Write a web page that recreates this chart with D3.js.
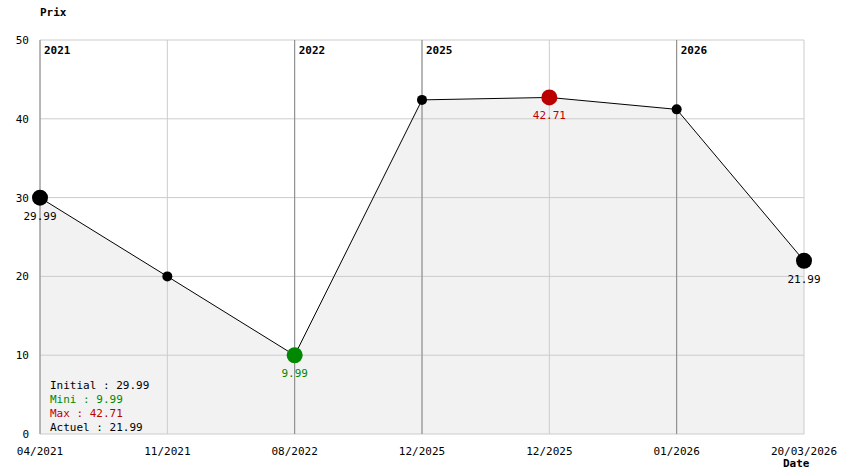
<!DOCTYPE html>
<html><head><meta charset="utf-8">
<script src="https://cdn.jsdelivr.net/npm/d3@7"></script>
<style>body{margin:0;background:#fff}text{font-family:"DejaVu Sans Mono",monospace;font-size:11px}</style>
</head><body><div class="chart"></div>
<script>
var dates = ["04/2021","11/2021","08/2022","12/2025","12/2025","01/2026","20/03/2026"];
var prix = [29.99, 20.0, 9.99, 42.4, 42.71, 41.2, 21.99];
var annees = [{i:0,t:"2021"},{i:2,t:"2022"},{i:3,t:"2025"},{i:5,t:"2026"}];
var yTicks = [0,10,20,30,40,50];

var w = 844, h = 474;
var svg = d3.select(".chart").append("svg").attr("width", w).attr("height", h);

var x = d3.scaleLinear().domain([0, dates.length-1]).range([40, 804]);
var y = d3.scaleLinear().domain([0, 50]).range([434, 40]);

var iMin = prix.indexOf(d3.min(prix)), iMax = prix.indexOf(d3.max(prix));

// zone grise sous la courbe
svg.append("path")
	.datum(prix)
	.attr("fill", "#f2f2f2")
	.attr("d", d3.area().x(function(d,i){return x(i);}).y0(y(0)).y1(function(d){return y(d);}));

// grille horizontale
svg.selectAll(".gy").data(yTicks).enter().append("line")
	.attr("x1", 40).attr("x2", 804)
	.attr("y1", function(d){return y(d);}).attr("y2", function(d){return y(d);})
	.attr("stroke", "#cccccc");
// grille verticale
svg.selectAll(".gx").data(dates).enter().append("line")
	.attr("x1", function(d,i){return x(i);}).attr("x2", function(d,i){return x(i);})
	.attr("y1", 40).attr("y2", 434)
	.attr("stroke", "#cccccc");
// séparateurs d'années
svg.selectAll(".an").data(annees).enter().append("line")
	.attr("x1", function(d){return x(d.i);}).attr("x2", function(d){return x(d.i);})
	.attr("y1", 40).attr("y2", 434)
	.attr("stroke", "#888888");
svg.selectAll(".ant").data(annees).enter().append("text")
	.attr("x", function(d){return x(d.i)+4;}).attr("y", 54)
	.attr("font-weight", "bold").text(function(d){return d.t;});

// axes
svg.selectAll(".ty").data(yTicks).enter().append("text")
	.attr("x", 29).attr("y", function(d){return y(d)+4;})
	.attr("text-anchor", "end").attr("font-size", "10px").text(function(d){return d;});
svg.selectAll(".tx").data(dates).enter().append("text")
	.attr("x", function(d,i){return x(i);}).attr("y", 455)
	.attr("text-anchor", "middle").attr("font-size", "10px").text(function(d){return d;});
svg.append("text").attr("x", 40).attr("y", 16).attr("font-weight", "bold").text("Prix");
svg.append("text").attr("x", 783).attr("y", 467).attr("font-weight", "bold").text("Date");

// courbe
svg.append("path")
	.datum(prix)
	.attr("fill", "none").attr("stroke", "#000").attr("stroke-width", 1)
	.attr("d", d3.line().x(function(d,i){return x(i);}).y(function(d){return y(d);}));

function couleur(i){ return i==iMin ? "#008800" : (i==iMax ? "#bb0000" : "#000"); }
svg.selectAll(".pt").data(prix).enter().append("circle")
	.attr("cx", function(d,i){return x(i);}).attr("cy", function(d){return y(d);})
	.attr("r", function(d,i){return (i==0||i==prix.length-1||i==iMin||i==iMax) ? 8 : 5;})
	.attr("fill", function(d,i){return couleur(i);});
svg.selectAll(".lb").data(prix).enter()
	.filter(function(d,i){return i==0||i==prix.length-1||i==iMin||i==iMax;})
	.append("text")
	.attr("x", function(d){return x(prix.indexOf(d));}).attr("y", function(d){return y(d)+22;})
	.attr("text-anchor", "middle")
	.attr("fill", function(d){return couleur(prix.indexOf(d));})
	.text(function(d){return d.toFixed(2);});

// légende
var leg = [["Initial : "+prix[0].toFixed(2),"#000"],["Mini : "+prix[iMin].toFixed(2),"#008800"],
	["Max : "+prix[iMax].toFixed(2),"#bb0000"],["Actuel : "+prix[prix.length-1].toFixed(2),"#000"]];
svg.selectAll(".lg").data(leg).enter().append("text")
	.attr("x", 50).attr("y", function(d,i){return 389+i*14;})
	.attr("fill", function(d){return d[1];}).text(function(d){return d[0];});
</script></body></html>
